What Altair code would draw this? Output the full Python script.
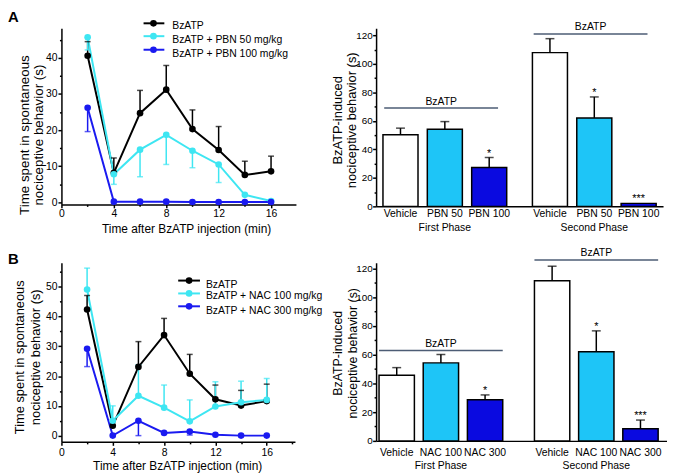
import altair as alt
import pandas as pd

FONT = "Liberation Sans"

# ---------------- data ----------------
times = [2, 4, 6, 8, 10, 12, 14, 16]

a_series = ["BzATP", "BzATP + PBN 50 mg/kg", "BzATP + PBN 100 mg/kg"]
a_bz = [40.6, 8.2, 24.7, 31.2, 20.3, 14.5, 7.6, 8.6]
a_bz_sem = [3.9, 4.1, 6.3, 6.7, 5.3, 6.5, 3.8, 4.2]
a_pbn50 = [45.7, 7.8, 14.6, 18.7, 14.3, 10.5, 2.1, 0.4]
a_pbn50_sem = [3.5, 2.8, 7.5, 8.2, 4.7, 5.0, 0, 0]
a_pbn100 = [26.2, 0.2, 0.2, 0.2, 0.1, 0.1, 0.1, 0.1]
a_pbn100_sem = [6.6, 0, 0, 0, 0, 0, 0, 0]
a_err_dir = [1, -1, -1]

b_series = ["BzATP", "BzATP + NAC 100 mg/kg", "BzATP + NAC 300 mg/kg"]
b_bz = [42.4, 3.3, 23.1, 33.8, 20.8, 12.2, 10.1, 11.6]
b_bz_sem = [4.7, 2.2, 8.5, 5.6, 6.5, 4.8, 5.1, 5.7]
b_nac100 = [49.1, 5.0, 13.4, 9.4, 4.8, 9.8, 11.2, 12.0]
b_nac100_sem = [7.2, 5.0, 10.4, 7.6, 7.2, 8.3, 7.1, 7.2]
b_nac300 = [29.2, 0.0, 5.0, 0.9, 1.4, 0.3, 0.0, 0.0]
b_nac300_sem = [6.0, 0, 5.0, 0, 1.2, 0, 0, 0]
b_err_dir = [1, 1, -1]

line_colors = ["#000000", "#3ee6f2", "#1a1af0"]

phases = ["First Phase", "Second Phase"]
a_treat = ["Vehicle", "PBN 50", "PBN 100"]
a_bar_mean = [[50.2, 54.2, 27.3], [107.9, 62.1, 2.1]]
a_bar_sem = [[4.7, 5.3, 7.0], [9.8, 14.7, 0]]
a_stars = [["", "", "*"], ["", "*", "***"]]
a_bracket = [69, 121]

b_treat = ["Vehicle", "NAC 100", "NAC 300"]
b_bar_mean = [[45.7, 54.3, 28.7], [111.5, 62.0, 8.5]]
b_bar_sem = [[5.3, 5.9, 3.3], [10.1, 14.6, 6.0]]
b_stars = [["", "", "*"], ["", "*", "***"]]
b_bracket = [63, 126]

bar_fills = ["#ffffff", "#1ec5f7", "#0a0ae0"]
bracket_color = "#4d5d75"

dummy = pd.DataFrame({"k": [0]})


def line_panel(letter, letter_xy, series, means, sems, dirs, xmax, ydom, yvals,
               w, h, ytitle, ytitle_xy, ytitle_size, ytitle_lh, xtitle_xy,
               xlabpad, legend_cfg):
    rows = []
    for s, m, e, d in zip(series, means, sems, dirs):
        for t, mv, ev in zip(times, m, e):
            rows.append(dict(time=t, series=s, mean=mv, sem=ev, end=mv + d * ev))
    df = pd.DataFrame(rows)
    xaxis = alt.Axis(values=[v for v in range(0, 19, 2) if v <= xmax],
                     labelExpr="datum.value % 4 === 0 ? datum.label : ''",
                     tickSize={"condition": {"test": "datum.value % 4 === 0", "value": 3.5}, "value": 2},
                     labelFlush=False, labelOverlap=False, labelPadding=xlabpad,
                     title="Time after BzATP injection (min)", titleFontSize=12,
                     titleX=xtitle_xy[0], titleY=xtitle_xy[1], titleBaseline="top",
                     labelFontSize=10.5, domainWidth=1.5, tickWidth=1.5)
    yaxis = alt.Axis(values=yvals,
                     labelExpr="datum.value % 10 === 0 ? datum.label : ''",
                     tickSize={"condition": {"test": "datum.value % 10 === 0", "value": 3.5}, "value": 2},
                     labelOverlap=False, labelPadding=1, labelFontSize=10.5,
                     title=ytitle, titleFontSize=ytitle_size, titleLineHeight=ytitle_lh,
                     titleX=ytitle_xy[0], titleY=ytitle_xy[1], titleAngle=270,
                     titleBaseline="bottom", titleAlign="center",
                     domainWidth=1.5, tickWidth=1.5)
    xs = alt.Scale(domain=[0, xmax], nice=False, zero=False)
    ys = alt.Scale(domain=ydom, nice=False, zero=False)
    x = alt.X("time:Q", scale=xs, axis=xaxis)
    y = alt.Y("mean:Q", scale=ys, axis=yaxis)
    yend = alt.Y("end:Q", scale=ys, axis=yaxis)
    color = alt.Color("series:N", scale=alt.Scale(domain=series, range=line_colors), legend=None)
    base = alt.Chart(df)
    lines = base.mark_line(strokeWidth=2).encode(x=x, y=y, color=color)
    err = base.transform_filter("datum.sem > 0").mark_rule(strokeWidth=1.5).encode(
        x=x, y=y, y2="end:Q", color=color)
    caps = base.transform_filter("datum.sem > 0").mark_tick(
        orient="horizontal", size=6, thickness=1.5).encode(x=x, y=yend, color=color)
    pts = base.mark_circle(size=45, opacity=1).encode(x=x, y=y, color=color)
    layers = [lines, err, caps, pts]
    lx0, lx1, ldot, ltx, lys, ltys = legend_cfg
    for s, c, ly, lty in zip(series, line_colors, lys, ltys):
        layers.append(alt.Chart(dummy).mark_rule(strokeWidth=2, color=c).encode(
            x=alt.value(lx0), x2=alt.value(lx1), y=alt.value(ly)))
        layers.append(alt.Chart(dummy).mark_circle(size=45, opacity=1, color=c).encode(
            x=alt.value(ldot), y=alt.value(ly)))
        layers.append(alt.Chart(dummy).mark_text(text=s, align="left", baseline="middle",
                                                 fontSize=10.5).encode(
            x=alt.value(ltx), y=alt.value(lty)))
    layers.append(alt.Chart(dummy).mark_text(text=letter, align="left", baseline="top",
                                             fontSize=15, fontWeight="bold").encode(
        x=alt.value(letter_xy[0]), y=alt.value(letter_xy[1])))
    return alt.layer(*layers).properties(width=w, height=h)


def bar_panel(treat, means, sems, stars, bracket, ydom, w, h, xpad, xopad,
              ytitle, ytitle_xy, ytitle_size, ytitle_lh, lab_dy, phase_pad, br_band):
    rows = []
    for p, ms, es, ss in zip(phases, means, sems, stars):
        for t, mv, ev, st in zip(treat, ms, es, ss):
            rows.append(dict(phase=p, treatment=t, mean=mv, sem=ev, top=mv + ev, star=st))
    df = pd.DataFrame(rows)
    br = pd.DataFrame({"phase": phases, "by": bracket, "label": ["BzATP", "BzATP"]})
    xs = alt.Scale(domain=phases, paddingInner=xpad[0], paddingOuter=xpad[1], align=xpad[2])
    xaxis = alt.Axis(title=None, labelAngle=0, ticks=False, tickSize=0, labelPadding=phase_pad,
                     labelFontSize=10.5, domainWidth=1.5, labelBaseline="top")
    x = alt.X("phase:N", sort=phases, scale=xs, axis=xaxis)
    xo = alt.XOffset("treatment:N", sort=treat,
                     scale=alt.Scale(domain=treat, paddingInner=xopad, paddingOuter=0))
    ys = alt.Scale(domain=ydom, nice=False, zero=False)
    yaxis = alt.Axis(values=list(range(0, 121, 10)),
                     labelExpr="datum.value % 20 === 0 ? datum.label : ''",
                     tickSize={"condition": {"test": "datum.value % 20 === 0", "value": 3.5}, "value": 2},
                     labelOverlap=False, labelPadding=0.5, labelFontSize=10,
                     title=ytitle, titleFontSize=ytitle_size, titleLineHeight=ytitle_lh,
                     titleX=ytitle_xy[0], titleY=ytitle_xy[1], titleAngle=270,
                     titleBaseline="bottom", titleAlign="center",
                     domainWidth=1.5, tickWidth=1.5)
    y = alt.Y("mean:Q", scale=ys, axis=yaxis)
    ytop = alt.Y("top:Q", scale=ys, axis=yaxis)
    fill = alt.Fill("treatment:N", scale=alt.Scale(domain=treat, range=bar_fills), legend=None)
    base = alt.Chart(df)
    bars = base.mark_bar(stroke="black", strokeWidth=1.5).encode(x=x, xOffset=xo, y=y, fill=fill)
    err = base.transform_filter("datum.sem > 0").mark_rule(strokeWidth=1.5, color="black").encode(
        x=x, xOffset=xo, y=y, y2="top:Q")
    caps = base.transform_filter("datum.sem > 0").mark_tick(
        orient="horizontal", size=9, thickness=1.5, color="black").encode(x=x, xOffset=xo, y=ytop)
    st = base.transform_filter("datum.star != ''").mark_text(
        fontSize=11, baseline="alphabetic", dy=-1).encode(x=x, xOffset=xo, y=ytop, text="star:N")
    labs = base.mark_text(fontSize=10.5, baseline="middle").encode(
        x=x, xOffset=xo, y=alt.value(h + lab_dy), text="treatment:N")
    brc = alt.Chart(br)
    rule = brc.mark_rule(color=bracket_color, strokeWidth=1.5).encode(
        x=alt.X("phase:N", sort=phases, scale=xs, axis=xaxis, bandPosition=br_band[0]),
        x2=alt.X2("phase", bandPosition=br_band[1]),
        y=alt.Y("by:Q", scale=ys, axis=yaxis))
    brt = brc.mark_text(fontSize=10.5, baseline="alphabetic", dy=-3.5).encode(
        x=alt.X("phase:N", sort=phases, scale=xs, axis=xaxis,
                bandPosition=(br_band[0] + br_band[1]) / 2),
        y=alt.Y("by:Q", scale=ys, axis=yaxis), text="label:N")
    return alt.layer(bars, err, caps, st, labs, rule, brt).properties(width=w, height=h)


def spacer(w, h):
    return alt.Chart(dummy).mark_point(opacity=0).encode(
        x=alt.X("k:Q", axis=None), y=alt.Y("k:Q", axis=None)).properties(width=w, height=h)


lineA = line_panel("A", (-54, -18), a_series, [a_bz, a_pbn50, a_pbn100],
                   [a_bz_sem, a_pbn50_sem, a_pbn100_sem], a_err_dir,
                   17.9, [-0.55, 48.2], list(range(0, 46, 5)), 237, 178,
                   ["Time spent in spontaneous", "nociceptive behavior (s)"], (-30, 107.5), 13.5, 14,
                   (126, 19.5), 1,
                   (83, 104, 93, 112, [-5, 8, 21.7], [-2, 12, 25.7]))
barA = bar_panel(a_treat, a_bar_mean, a_bar_sem, a_stars, a_bracket, [0, 125], 290, 180,
                 (0.172, 0.046, 0.5), 0.21,
                 ["BzATP-induced", "nociceptive behavior (s)"], (-32, 92.5), 13, 14,
                 7.5, 16, (0.01, 0.93))
lineB = line_panel("B", (-54, -11), b_series, [b_bz, b_nac100, b_nac300],
                   [b_bz_sem, b_nac100_sem, b_nac300_sem], b_err_dir,
                   18.2, [-2.1, 58.1], list(range(0, 56, 5)), 236, 181,
                   ["Time spent in spontaneous", "nociceptive behavior (s)"], (-35, 95), 13, 16,
                   (117, 18.5), 2,
                   (118, 140, 129, 146, [18, 31, 44], [22, 34, 49]))
barB = bar_panel(b_treat, b_bar_mean, b_bar_sem, b_stars, b_bracket, [0, 124], 294, 180,
                 (0.204, 0.038, 0.25), 0.2,
                 ["BzATP-induced", "nociceptive behavior (s)"], (-32, 91), 12.5, 15,
                 12, 20, (0.0, 1.0))

res = dict(x="independent", y="independent", color="independent", fill="independent",
           xOffset="independent")

chart = (
    alt.concat(lineA, spacer(81, 180), barA,
               lineB, spacer(81, 180), barB,
               columns=3, spacing={"row": 57, "column": 0}, bounds="flush", align="each")
    .resolve_scale(**res)
    .properties(padding=0)
    .configure_view(strokeWidth=0)
    .configure_axis(labelFont=FONT, titleFont=FONT, labelColor="black", titleColor="black",
                    domainColor="black", tickColor="black", grid=False,
                    titleFontWeight="normal")
    .configure_text(font=FONT, color="black")
)

chart.save("out.html", embed_options={"renderer": "svg", "actions": False})
